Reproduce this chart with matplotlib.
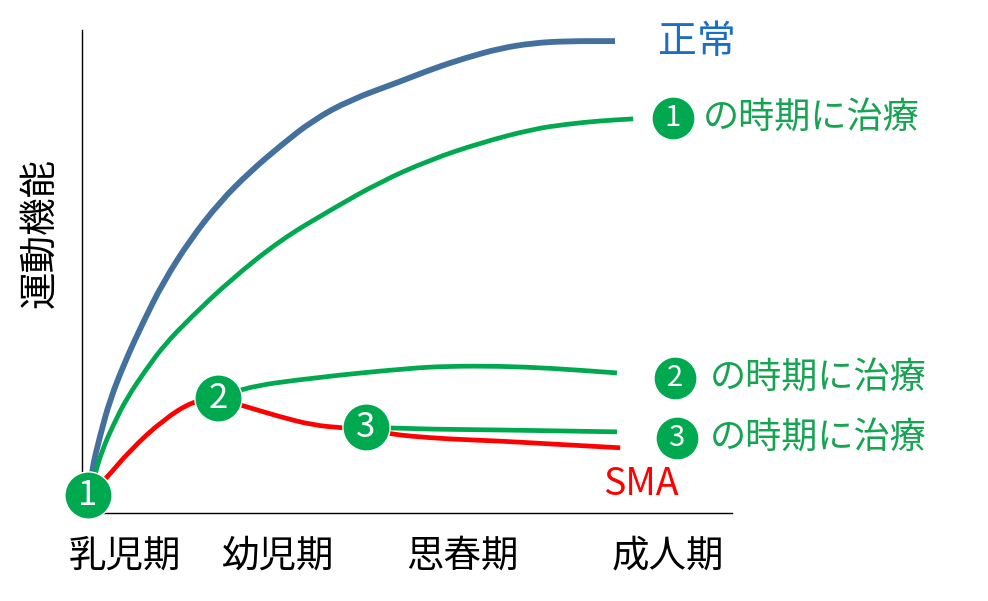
import matplotlib.pyplot as plt
from matplotlib.path import Path
from matplotlib.patches import PathPatch

plt.rcParams['font.family'] = ['Noto Sans CJK JP', 'DejaVu Sans']

# stages along the x axis (0-100 scale) and their labels
stage_pos = [6.6, 30.0, 58.5, 90.2]
stage_labels = ['乳児期', '幼児期', '思春期', '成人期']

# 正常 (normal development)
normal_x = [0.9, 1.5, 2.8, 4.3, 6.6, 9.4, 12.5, 16.6, 21.2, 25.8, 30.5, 35.5, 41.2, 48.9, 54.0, 59.2, 64.3, 69.4, 74.6, 82.0]
normal_y = [2.7, 8.9, 16.1, 23.4, 31.3, 39.5, 47.8, 56.5, 64.4, 70.6, 76.0, 81.3, 85.5, 89.3, 92.0, 94.3, 96.2, 97.3, 97.7, 97.7]

# treatment at stage 1
t1_x = [1.2, 1.8, 3.1, 4.8, 6.9, 10.0, 12.8, 16.6, 22.8, 30.5, 38.2, 45.8, 53.5, 61.2, 69.4, 74.6, 79.7, 84.8]
t1_y = [2.7, 7.2, 13.0, 18.2, 23.8, 30.0, 35.0, 40.3, 48.2, 56.5, 62.7, 68.5, 73.1, 76.6, 79.5, 80.5, 81.2, 81.6]

# untreated SMA
sma_x = [1.5, 3.5, 7.4, 12.5, 17.1, 20.9, 24.3, 30.5, 35.5, 40.2, 43.7, 47.4, 50.5, 56.6, 64.3, 72.0, 82.8]
sma_y = [4.1, 6.8, 13.0, 19.3, 23.2, 23.8, 22.4, 19.9, 18.2, 17.6, 17.4, 16.4, 15.9, 15.3, 14.9, 14.3, 13.5]

# treatment at stage 2
t2_x = [20.9, 24.3, 35.5, 50.5, 56.6, 64.3, 72.0, 82.3]
t2_y = [23.8, 25.9, 28.0, 30.0, 30.4, 30.4, 30.0, 29.0]

# treatment at stage 3
t3_x = [43.7, 50.5, 64.3, 82.3]
t3_y = [17.8, 17.4, 17.2, 16.8]

# numbered treatment points on the curves
mark_x = [0.9, 20.9, 43.7]
mark_y = [3.7, 23.8, 17.8]
mark_labels = ['1', '2', '3']

blue = '#44709d'
green = '#00a84f'
text_green = '#16a352'
red = '#ff0000'


def smooth_line(ax, xs, ys, **kw):
    # quadratic bezier through midpoints, the read points act as control points
    verts = [(xs[0], ys[0])]
    codes = [Path.MOVETO]
    for i in range(1, len(xs) - 1):
        verts.append((xs[i], ys[i]))
        verts.append(((xs[i] + xs[i + 1]) / 2, (ys[i] + ys[i + 1]) / 2))
        codes += [Path.CURVE3, Path.CURVE3]
    verts.append((xs[-1], ys[-1]))
    codes.append(Path.LINETO)
    ax.add_patch(PathPatch(Path(verts, codes), fill=False, capstyle='butt', **kw))


fig = plt.figure(figsize=(9.88, 6.01), dpi=100)
ax = fig.add_axes([82 / 988, 88 / 601, 650 / 988, 483 / 601])

smooth_line(ax, normal_x, normal_y, edgecolor=blue, lw=4.2, zorder=3)
smooth_line(ax, t1_x, t1_y, edgecolor=green, lw=3.4, zorder=3)
smooth_line(ax, sma_x, sma_y, edgecolor=red, lw=3.4, zorder=2)
smooth_line(ax, t2_x, t2_y, edgecolor=green, lw=3.4, zorder=3)
smooth_line(ax, t3_x, t3_y, edgecolor=green, lw=3.4, zorder=3)

for x, y, s in zip(mark_x, mark_y, mark_labels):
    ax.plot(x, y, 'o', ms=34, color=green, mec='white', mew=1, clip_on=False, zorder=5)
    ax.text(x, y, s, color='white', fontsize=25, ha='center', va='center', zorder=6)

# right-hand labels
ax.text(88.6, 97.5, '正常', color='#1b6ec2', fontsize=28, ha='left', va='center', clip_on=False)

legend_circ_x = [90.9, 91.2, 91.5]
legend_circ_y = [81.8, 28.0, 15.5]
legend_text_x = [95.5, 96.6, 96.6]
for cx, cy, tx, s in zip(legend_circ_x, legend_circ_y, legend_text_x, mark_labels):
    ax.plot(cx, cy, 'o', ms=29, color=green, clip_on=False, zorder=5)
    ax.text(cx, cy, s, color='white', fontsize=21, ha='center', va='center', zorder=6, clip_on=False)
    ax.text(tx, cy, 'の時期に治療', color=text_green, fontsize=26, ha='left', va='center', clip_on=False)

ax.text(80.2, 5.8, 'SMA', color=red, fontsize=27, ha='left', va='center', clip_on=False)

ax.set_xlim(0, 100)
ax.set_ylim(0, 100)
ax.spines['top'].set_visible(False)
ax.spines['right'].set_visible(False)
ax.spines['left'].set_linewidth(1.0)
ax.spines['bottom'].set_linewidth(1.0)
ax.set_xticks(stage_pos)
ax.set_xticklabels(stage_labels, fontsize=27)
ax.tick_params(axis='x', length=0, pad=17)
ax.set_yticks([])

fig.text(40 / 988, 1 - 233 / 601, '運動機能', rotation=90, fontsize=27, ha='center', va='center')

fig.savefig('out.png', dpi=100)
